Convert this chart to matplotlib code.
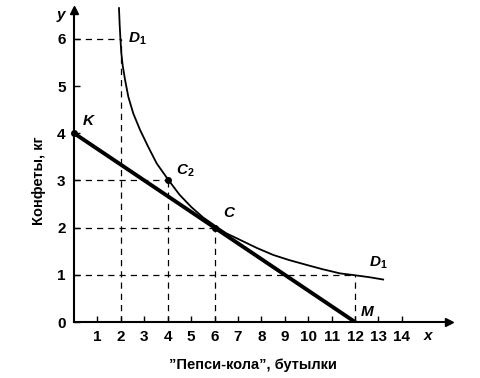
import matplotlib
matplotlib.use("Agg")
import matplotlib.pyplot as plt

# Indifference curve D1
curve_x = [1.92, 1.95, 1.98, 2.02, 2.08, 2.18, 2.32, 2.53, 2.82, 3.17, 3.53, 4.03, 4.5, 5.0, 5.5, 6.02, 6.5, 7.09, 7.8, 8.51, 9.2, 9.93, 10.6, 11.36, 12.0, 12.6, 13.2]
curve_y = [6.65, 6.3, 6.02, 5.7, 5.43, 5.13, 4.77, 4.42, 4.07, 3.71, 3.36, 3.01, 2.7, 2.44, 2.22, 2.04, 1.88, 1.74, 1.57, 1.42, 1.31, 1.21, 1.12, 1.03, 0.99, 0.95, 0.90]

# Budget line K-M
budget_x = [0, 12]
budget_y = [4, 0]

# Marked points K, C2, C
pts_x = [0, 4, 6]
pts_y = [4, 3, 2]

# Guide (dashed) points
guide_x = [2, 4, 6, 12]
guide_y = [6, 3, 2, 1]

xticks = list(range(1, 15))
yticks = list(range(0, 7))

plt.rcParams['font.family'] = ['Liberation Sans', 'DejaVu Sans']
plt.rcParams['font.weight'] = 'bold'
plt.rcParams['mathtext.fontset'] = 'custom'
plt.rcParams['mathtext.it'] = 'Liberation Sans:italic:bold'
plt.rcParams['mathtext.rm'] = 'Liberation Sans:bold'

fig = plt.figure(figsize=(4.81, 3.78), dpi=100)
ax = fig.add_axes([74/481, 56/378, 16*23.42/481, 6.6*47.2/378])
ax.set_xlim(0, 16)
ax.set_ylim(0, 6.6)

for gx, gy in zip(guide_x, guide_y):
    ax.plot([0, gx], [gy, gy], ls=(0, (5, 4)), color='black', lw=0.9)
    ax.plot([gx, gx], [0, gy], ls=(0, (5, 4)), color='black', lw=0.9)

ax.plot(curve_x, curve_y, color='black', lw=1.3, clip_on=False)
ax.plot(budget_x, budget_y, color='black', lw=2.8, solid_capstyle='round')
ax.plot(pts_x, pts_y, 'o', color='black', ms=4, clip_on=False)

for s in ['top', 'right']:
    ax.spines[s].set_visible(False)
ax.spines['left'].set_linewidth(1.5)
ax.spines['bottom'].set_linewidth(1.5)
ax.plot(1, 0, '>', color='black', ms=6, transform=ax.transAxes, clip_on=False)
ax.plot(0, 1, '^', color='black', ms=6, transform=ax.transAxes, clip_on=False)

ax.set_xticks(xticks)
ax.set_xticklabels([str(t) for t in xticks])
ax.set_yticks(yticks)
ax.set_yticklabels([str(t) for t in yticks])
ax.tick_params(direction='in', length=4, width=1, labelsize=11, pad=6)

ax.set_xlabel('\u201dПепси-кола\u201d, бутылки', fontsize=10.5, fontweight='bold')
ax.set_ylabel('Конфеты, кг', fontsize=10.5, fontweight='bold')
ax.xaxis.set_label_coords(0.478, -0.116)
ax.yaxis.set_label_coords(-0.075, 0.455)

ax.text(15.1, -0.3, 'x', fontsize=11, style='italic', ha='center', va='center', clip_on=False)
ax.text(-0.55, 6.5, 'y', fontsize=11, style='italic', ha='center', va='center', clip_on=False)
ax.text(2.3, 6.0, '$D_1$', fontsize=11, ha='left', va='center')
ax.text(12.6, 1.25, '$D_1$', fontsize=11, ha='left', va='center')
ax.text(0.35, 4.25, '$K$', fontsize=11, ha='left', va='center')
ax.text(4.35, 3.2, '$C_2$', fontsize=11, ha='left', va='center')
ax.text(6.35, 2.3, '$C$', fontsize=11, ha='left', va='center')
ax.text(12.2, 0.22, '$M$', fontsize=11, ha='left', va='center')

fig.savefig('out.png', dpi=100)
